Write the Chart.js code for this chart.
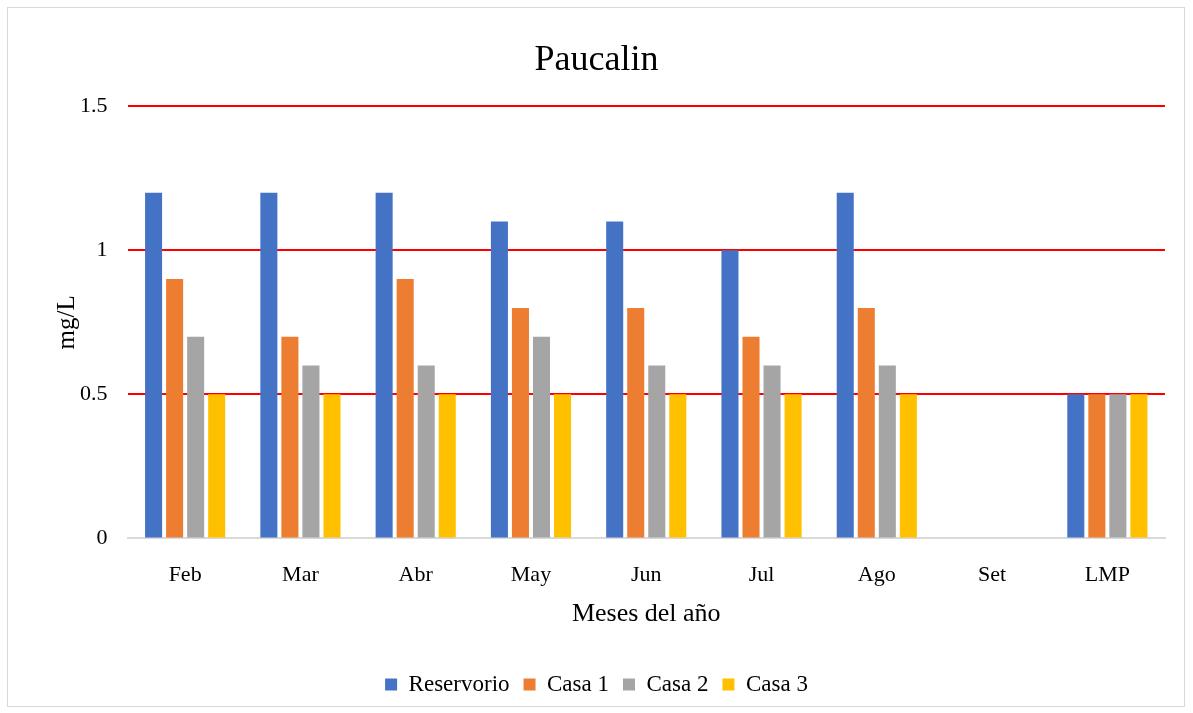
<!DOCTYPE html>
<html>
<head>
<meta charset="utf-8">
<script src="https://cdn.jsdelivr.net/npm/chart.js@4"></script>
<style>
  html, body { margin: 0; padding: 0; background: #fff; }
  #wrap {
    position: absolute; left: 7px; top: 7px;
    width: 1178px; height: 700px;
    border: 1px solid #d9d9d9; box-sizing: border-box;
  }
</style>
</head>
<body>
<div id="wrap"><canvas id="chart"></canvas></div>
<script>
// Chart data
var months = ["Feb", "Mar", "Abr", "May", "Jun", "Jul", "Ago", "Set", "LMP"];
var reservorio = [1.2, 1.2, 1.2, 1.1, 1.1, 1.0, 1.2, null, 0.5];
var casa1 = [0.9, 0.7, 0.9, 0.8, 0.8, 0.7, 0.8, null, 0.5];
var casa2 = [0.7, 0.6, 0.6, 0.7, 0.6, 0.6, 0.6, null, 0.5];
var casa3 = [0.5, 0.5, 0.5, 0.5, 0.5, 0.5, 0.5, null, 0.5];
var yTicks = [0, 0.5, 1, 1.5];

Chart.defaults.font.family = "'Liberation Serif', 'Times New Roman', serif";
Chart.defaults.color = "#000";

var ctx = document.getElementById("chart");

var chartData = {
    labels: months,
    datasets: [
        { label: "Reservorio", data: reservorio, backgroundColor: "#4472C4" },
        { label: "Casa 1", data: casa1, backgroundColor: "#ED7D31" },
        { label: "Casa 2", data: casa2, backgroundColor: "#A5A5A5" },
        { label: "Casa 3", data: casa3, backgroundColor: "#FFC000" }
    ]
};

var chartOptions = {
    responsive: true,
    maintainAspectRatio: false,
    animation: false,
    layout: { padding: { left: 20, right: 19, top: 10, bottom: 0 } },
    datasets: {
        bar: { categoryPercentage: 0.73, barPercentage: 0.81 }
    },
    plugins: {
        title: {
            display: true,
            text: "Paucalin",
            font: { size: 36, weight: "normal" },
            padding: { top: 21, bottom: 24 }
        },
        legend: {
            position: "bottom",
            labels: {
                boxWidth: 12, boxHeight: 12,
                font: { size: 23 },
                padding: 14
            }
        },
        tooltip: { enabled: false }
    },
    scales: {
        x: {
            grid: { display: false },
            border: { color: "#d9d9d9", width: 2 },
            ticks: { font: { size: 22 }, padding: 16 },
            title: {
                display: true, text: "Meses del año",
                font: { size: 26 }, padding: { top: -6, bottom: 29 }
            }
        },
        y: {
            min: 0, max: 1.5,
            afterBuildTicks: function (axis) {
                axis.ticks = yTicks.map(function (v) { return { value: v }; });
            },
            grid: {
                color: function (c) { return c.tick && c.tick.value === 0 ? "#d9d9d9" : "#ff0000"; },
                lineWidth: 2,
                drawTicks: false
            },
            border: { display: false },
            ticks: {
                font: { size: 22 }, padding: 20,
                callback: function (v) { return String(v); }
            },
            title: {
                display: true, text: "mg/L",
                font: { size: 25 }, padding: { top: 24, bottom: -22 }
            }
        }
    }
};

new Chart(ctx, { type: "bar", data: chartData, options: chartOptions });
</script>
</body>
</html>
